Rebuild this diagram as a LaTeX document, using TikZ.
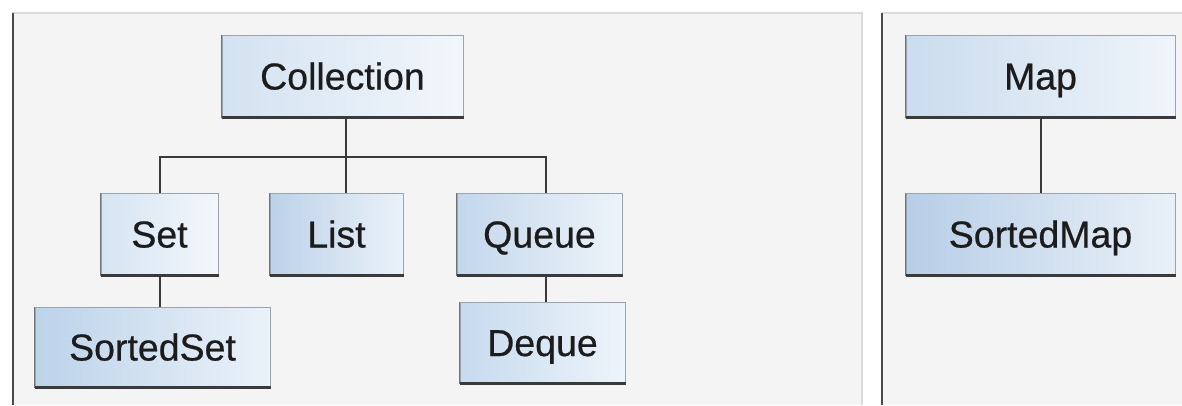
\documentclass[tikz,border=0pt]{standalone}
\usepackage{fontspec}
\setmainfont{Liberation Sans}
\newfontfamily\boxfont{Liberation Sans}[FakeBold=0.6]
\definecolor{panelbg}{HTML}{F4F4F4}
\definecolor{panelline}{HTML}{DADADA}
\definecolor{paneldark}{HTML}{4A4A4A}
\definecolor{edge}{HTML}{3A3A3A}
\definecolor{boxline}{HTML}{9AA4AE}
\definecolor{txt}{HTML}{1C1C1C}
\definecolor{cColl}{HTML}{D3E2F1}
\definecolor{cSet}{HTML}{D6E4F2}
\definecolor{cList}{HTML}{BCD2E9}
\definecolor{cQueue}{HTML}{C3D7EC}
\definecolor{cSSet}{HTML}{BCD3EA}
\definecolor{cDeque}{HTML}{C6DAEE}
\definecolor{cMap}{HTML}{CADCEE}
\definecolor{cSMap}{HTML}{B7CEE7}
\tikzset{
  box/.style={draw=boxline, line width=1pt, inner sep=0pt, text=txt,
    text height=27pt, text depth=0pt,
    font=\boxfont\fontsize{37.5}{42}\selectfont},
  lightbox/.style={box, left color=#1, right color=white!70!#1},
  conn/.style={draw=edge, line width=2pt},
  shadowedge/.style={draw=edge, line width=2.2pt},
  sideedge/.style={draw=boxline!70!black, line width=1.2pt}
}
\begin{document}
\begin{tikzpicture}[x=1pt,y=-1pt]
\useasboundingbox (0,0) rectangle (1182,405);
\fill[white] (0,0) rectangle (1182,405);
% panels
\fill[panelbg] (12,13) rectangle (862,405);
\draw[panelline, line width=1.5pt] (12,13) -- (862,13) -- (862,405);
\draw[paneldark, line width=2pt] (13,13) -- (13,405);
\fill[panelbg] (882,13) rectangle (1182,405);
\draw[panelline, line width=1.5pt] (882,13) -- (1182,13);
\draw[paneldark, line width=2pt] (882,13) -- (882,405);
% nodes
\node[lightbox=cColl, minimum width=241pt, minimum height=82pt] (coll) at (342.5,76) {Collection};
\node[lightbox=cSet, minimum width=117pt, minimum height=82pt] (set) at (159.5,234) {Set};
\node[lightbox=cList, minimum width=133pt, minimum height=82pt] (list) at (336.5,234) {List};
\node[lightbox=cQueue, minimum width=165pt, minimum height=82pt] (queue) at (539.5,234) {Queue};
\node[lightbox=cSSet, minimum width=235pt, minimum height=80pt] (sset) at (152.5,347) {SortedSet};
\node[lightbox=cDeque, minimum width=165pt, minimum height=81pt] (deque) at (542.5,342.5) {Deque};
\node[lightbox=cMap, minimum width=269pt, minimum height=82pt] (map) at (1040.5,76) {Map};
\node[lightbox=cSMap, minimum width=269pt, minimum height=82pt] (smap) at (1040.5,234) {SortedMap};
% box shadow edges
\foreach \n in {coll,set,list,queue,sset,deque,map,smap}{
  \draw[sideedge] (\n.south west) -- (\n.north west);
  \draw[shadowedge] (\n.south west) -- (\n.south east);
}
% connectors
\coordinate (j) at (346,157);
\coordinate (busL) at (160,157);
\coordinate (busR) at (546,157);
\draw[conn] (coll.south -| j) -- (j |- list.north);
\draw[conn] (busL |- set.north) -- (busL) -- (busR) -- (busR |- queue.north);
\draw[conn] (busL |- set.south) -- (busL |- sset.north);
\draw[conn] (busR |- queue.south) -- (busR |- deque.north);
\draw[conn] (map.south) -- (smap.north);
\end{tikzpicture}
\end{document}
